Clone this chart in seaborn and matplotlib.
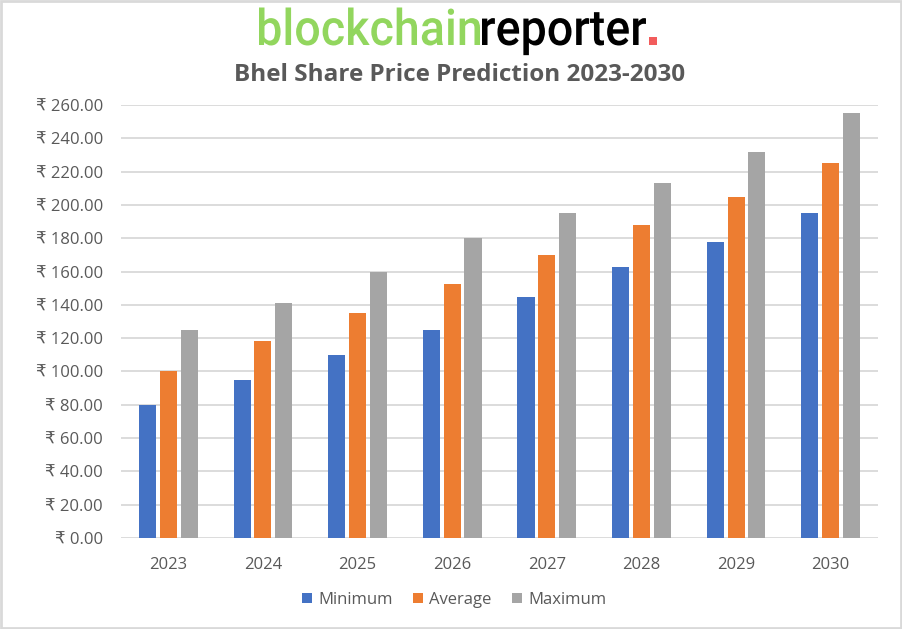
import matplotlib
matplotlib.use("Agg")
import matplotlib.pyplot as plt
import seaborn as sns
import pandas as pd
from matplotlib.patches import Rectangle, PathPatch
from matplotlib.textpath import TextPath
from matplotlib.font_manager import FontProperties
from matplotlib.transforms import Affine2D

years = ["2023", "2024", "2025", "2026", "2027", "2028", "2029", "2030"]
minimum = [80, 95, 110, 125, 145, 163, 178, 195]
average = [100, 118, 135, 152.5, 170, 188, 205, 225]
maximum = [125, 141, 160, 180, 195, 213, 232, 255]
y_ticks = list(range(0, 261, 20))

df = pd.DataFrame({"year": years, "Minimum": minimum, "Average": average, "Maximum": maximum})
df = df.melt(id_vars="year", var_name="series", value_name="price")

sns.set_style("white")
plt.rcParams["font.family"] = ["Open Sans", "DejaVu Sans"]
text_grey = "#595959"
palette = {"Minimum": "#4472c4", "Average": "#ed7d31", "Maximum": "#a5a5a5"}

W, H = 902, 629
fig = plt.figure(figsize=(W / 100, H / 100), dpi=100)
ax = fig.add_axes([121 / W, 1 - 538 / H, 757 / W, 433 / H])

sns.barplot(data=df, x="year", y="price", hue="series", palette=palette,
            width=0.66, gap=0.18, saturation=1, linewidth=0, ax=ax, legend=True)

ax.set_ylim(0, 260)
ax.set_yticks(y_ticks)
ax.set_yticklabels([f"₹ {v:.2f}" for v in y_ticks])
ax.yaxis.grid(True, color="#d9d9d9", linewidth=1.3)
ax.set_axisbelow(True)
for s in ax.spines.values():
    s.set_visible(False)
ax.tick_params(axis="both", length=0, labelsize=12, labelcolor=text_grey)
ax.tick_params(axis="y", pad=13)
ax.tick_params(axis="x", pad=14)
ax.set_xlabel("")
ax.set_ylabel("")

handles, labels = ax.get_legend_handles_labels()
ax.get_legend().remove()
fig.legend(handles, labels, loc="center", bbox_to_anchor=(454 / W, 1 - 600 / H), ncol=3,
           frameon=False, fontsize=12, labelcolor=text_grey, handlelength=0.6,
           handleheight=0.6, handletextpad=0.4, columnspacing=1.2)

# title
fig.text(460 / W, 1 - 75 / H, "Bhel Share Price Prediction 2023-2030",
         ha="center", va="center", fontsize=17.5, fontweight="bold", color=text_grey)

# logo drawn as text paths so it can be squeezed a little
prop = FontProperties(family="Roboto", weight="medium")
em = 50  # px
base_y = (H - 45) / 100
x0 = 259 / 100
parts = [("blockchain", "#92d65e", 221), ("reporter", "black", 164)]
x = x0
for word, col, target_px in parts:
    tp = TextPath((0, 0), word, size=1, prop=prop)
    ext = tp.get_extents()
    sx = (target_px / 100) / ext.width
    tr = Affine2D().translate(-ext.x0, 0).scale(sx, em / 100).translate(x, base_y) + fig.dpi_scale_trans
    fig.patches.append(PathPatch(tp, transform=tr, facecolor=col, edgecolor="none"))
    x += target_px / 100 + 0.02
fig.patches.append(Rectangle((x + 0.01, base_y), 0.075, 0.075, transform=fig.dpi_scale_trans,
                             facecolor="#f25c5c", edgecolor="none"))

fig.patches.append(Rectangle((0.001, 0.001), 0.998, 0.998, transform=fig.transFigure,
                             fill=False, edgecolor="#d9d9d9", linewidth=2))

fig.savefig("out.png", dpi=100)
